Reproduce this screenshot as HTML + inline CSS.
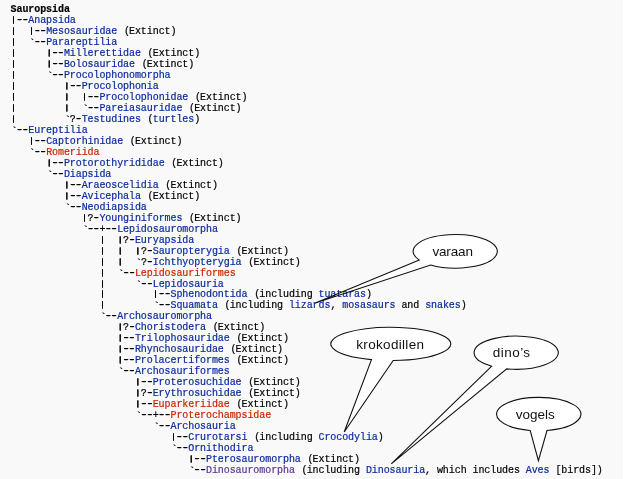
<!DOCTYPE html>
<html lang="en">
<head>
<meta charset="utf-8">
<title>Sauropsida</title>
<style>
html,body{margin:0;padding:0;}
body{width:624px;height:479px;background:#f9f9f9;overflow:hidden;position:relative;}
pre{position:absolute;left:0;top:0;margin:0;padding:3.9px 0 0 10.6px;font-family:"Liberation Mono",monospace;font-size:10px;line-height:10.988px;letter-spacing:-0.08px;color:#000;white-space:pre;-webkit-text-stroke:0.2px;will-change:transform;}
pre b{font-weight:bold;}
pre a{color:#0a2a9e;text-decoration:none;}
pre a.r{color:#cc2200;}
pre a.v{color:#5a3696;}
pre i{font-style:normal;}
pre i.p{font-size:8px;letter-spacing:1.12px;line-height:0;position:relative;left:0.56px;top:-1px;-webkit-text-stroke:0;text-shadow:0 -1px 0 #000,0 0 0 #000,0 -1px 0 #000;}
pre i.d{font-size:12px;letter-spacing:-1.28px;line-height:0;position:relative;left:-0.65px;-webkit-text-stroke:0;text-shadow:0.5px 0 0 #000,-0.5px 0 0 #000;}
pre i.g{font-weight:bold;position:relative;left:1px;top:1px;-webkit-text-stroke:0;}
pre i.o{position:relative;left:0.8px;}
svg{position:absolute;left:0;top:0;}
svg.fill path{fill:#ffffff;stroke:none;}
svg.line path{fill:none;stroke:#111;stroke-width:1.1;stroke-linejoin:miter;stroke-miterlimit:4;}
.edge{position:absolute;right:0;top:0;width:1px;height:479px;background:#fff;}
svg text{font-family:"Liberation Sans",sans-serif;font-size:13.5px;fill:#111;text-anchor:middle;}
</style>
</head>
<body>
<svg class="fill" width="624" height="479" viewBox="0 0 624 479">
<path d="M419.33 260.09 L315.30 303.00 L430.68 264.96 A42.10 16.80 0 1 0 419.33 260.09 Z"/>
<path d="M371.49 359.62 L344.20 432.00 L393.18 360.49 A60.00 16.60 0 1 0 371.49 359.62 Z"/>
<path d="M491.75 366.21 L391.30 463.80 L506.73 368.87 A42.10 16.60 0 1 0 491.75 366.21 Z"/>
<path d="M530.16 430.45 L538.40 460.60 L546.99 430.48 A42.20 16.70 0 1 0 530.16 430.45 Z"/>
</svg>
<pre><b>Sauropsida</b>
<i class="p">|</i><i class="d">--</i><a>Anapsida</a>
<i class="p">|</i>  <i class="p">|</i><i class="d">--</i><a>Mesosauridae</a> <i class="o">(</i>Extinct)
<i class="p">|</i>  <i class="g">`</i><i class="d">--</i><a>Parareptilia</a>
<i class="p">|</i>     <i class="p">|</i><i class="d">--</i><a>Millerettidae</a> <i class="o">(</i>Extinct)
<i class="p">|</i>     <i class="p">|</i><i class="d">--</i><a>Bolosauridae</a> <i class="o">(</i>Extinct)
<i class="p">|</i>     <i class="g">`</i><i class="d">--</i><a>Procolophonomorpha</a>
<i class="p">|</i>        <i class="p">|</i><i class="d">--</i><a>Procolophonia</a>
<i class="p">|</i>        <i class="p">|</i>  <i class="p">|</i><i class="d">--</i><a>Procolophonidae</a> <i class="o">(</i>Extinct)
<i class="p">|</i>        <i class="p">|</i>  <i class="g">`</i><i class="d">--</i><a>Pareiasauridae</a> <i class="o">(</i>Extinct)
<i class="p">|</i>        <i class="g">`</i>?<i class="d">-</i><a>Testudines</a> <i class="o">(</i><a>turtles</a>)
<i class="g">`</i><i class="d">--</i><a>Eureptilia</a>
   <i class="p">|</i><i class="d">--</i><a>Captorhinidae</a> <i class="o">(</i>Extinct)
   <i class="g">`</i><i class="d">--</i><a class="r">Romeriida</a>
      <i class="p">|</i><i class="d">--</i><a>Protorothyrididae</a> <i class="o">(</i>Extinct)
      <i class="g">`</i><i class="d">--</i><a>Diapsida</a>
         <i class="p">|</i><i class="d">--</i><a>Araeoscelidia</a> <i class="o">(</i>Extinct)
         <i class="p">|</i><i class="d">--</i><a>Avicephala</a> <i class="o">(</i>Extinct)
         <i class="g">`</i><i class="d">--</i><a>Neodiapsida</a>
            <i class="p">|</i>?<i class="d">-</i><a>Younginiformes</a> <i class="o">(</i>Extinct)
            <i class="g">`</i><i class="d">--</i>+<i class="d">--</i><a>Lepidosauromorpha</a>
               <i class="p">|</i>  <i class="p">|</i>?<i class="d">-</i><a>Euryapsida</a>
               <i class="p">|</i>  <i class="p">|</i>  <i class="p">|</i>?<i class="d">-</i><a>Sauropterygia</a> <i class="o">(</i>Extinct)
               <i class="p">|</i>  <i class="p">|</i>  <i class="g">`</i>?<i class="d">-</i><a>Ichthyopterygia</a> <i class="o">(</i>Extinct)
               <i class="p">|</i>  <i class="g">`</i><i class="d">--</i><a class="r">Lepidosauriformes</a>
               <i class="p">|</i>     <i class="g">`</i><i class="d">--</i><a>Lepidosauria</a>
               <i class="p">|</i>        <i class="p">|</i><i class="d">--</i><a>Sphenodontida</a> <i class="o">(</i>including <a>tuataras</a>)
               <i class="p">|</i>        <i class="g">`</i><i class="d">--</i><a>Squamata</a> <i class="o">(</i>including <a>lizards</a>, <a>mosasaurs</a> and <a>snakes</a>)
               <i class="g">`</i><i class="d">--</i><a>Archosauromorpha</a>
                  <i class="p">|</i>?<i class="d">-</i><a>Choristodera</a> <i class="o">(</i>Extinct)
                  <i class="p">|</i><i class="d">--</i><a>Trilophosauridae</a> <i class="o">(</i>Extinct)
                  <i class="p">|</i><i class="d">--</i><a>Rhynchosauridae</a> <i class="o">(</i>Extinct)
                  <i class="p">|</i><i class="d">--</i><a>Prolacertiformes</a> <i class="o">(</i>Extinct)
                  <i class="g">`</i><i class="d">--</i><a>Archosauriformes</a>
                     <i class="p">|</i><i class="d">--</i><a>Proterosuchidae</a> <i class="o">(</i>Extinct)
                     <i class="p">|</i>?<i class="d">-</i><a>Erythrosuchidae</a> <i class="o">(</i>Extinct)
                     <i class="p">|</i><i class="d">--</i><a class="r">Euparkeriidae</a> <i class="o">(</i>Extinct)
                     <i class="g">`</i><i class="d">--</i>+<i class="d">--</i><a class="r">Proterochampsidae</a>
                        <i class="g">`</i><i class="d">--</i><a>Archosauria</a>
                           <i class="p">|</i><i class="d">--</i><a>Crurotarsi</a> <i class="o">(</i>including <a>Crocodylia</a>)
                           <i class="g">`</i><i class="d">--</i><a>Ornithodira</a>
                              <i class="p">|</i><i class="d">--</i><a>Pterosauromorpha</a> <i class="o">(</i>Extinct)
                              <i class="g">`</i><i class="d">--</i><a class="v">Dinosauromorpha</a> <i class="o">(</i>including <a>Dinosauria</a>, which includes <a>Aves</a> [birds])</pre>
<svg class="line" width="624" height="479" viewBox="0 0 624 479">
<path d="M419.33 260.09 L315.30 303.00 L430.68 264.96 A42.10 16.80 0 1 0 419.33 260.09 Z"/>
<text x="452.65" y="255.8" textLength="40.5" lengthAdjust="spacing">varaan</text>
<path d="M371.49 359.62 L344.20 432.00 L393.18 360.49 A60.00 16.60 0 1 0 371.49 359.62 Z"/>
<text x="390.15" y="348.8" textLength="67.7" lengthAdjust="spacing">krokodillen</text>
<path d="M491.75 366.21 L391.30 463.80 L506.73 368.87 A42.10 16.60 0 1 0 491.75 366.21 Z"/>
<text x="511.45" y="357.2" textLength="37.3" lengthAdjust="spacing">dino’s</text>
<path d="M530.16 430.45 L538.40 460.60 L546.99 430.48 A42.20 16.70 0 1 0 530.16 430.45 Z"/>
<text x="535.25" y="418.9" textLength="39.1" lengthAdjust="spacing">vogels</text>
</svg>
<div class="edge"></div>
</body>
</html>
